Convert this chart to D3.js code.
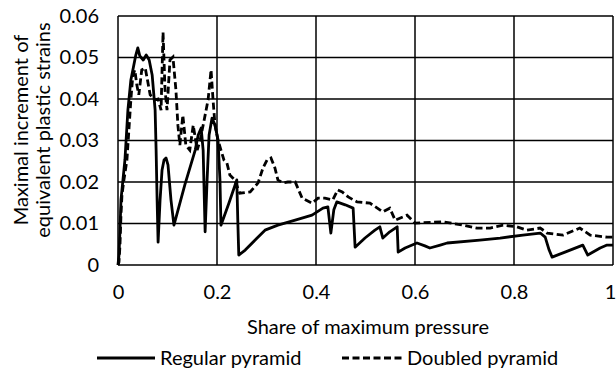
<!DOCTYPE html>
<html>
<head>
<meta charset="utf-8">
<script src="https://cdn.jsdelivr.net/npm/d3@7"></script>
<style>
  body { margin: 0; background: #fff; }
  text { font-family: Lato, "Open Sans", sans-serif; fill: #000; }
</style>
</head>
<body>
<div id="chart"></div>
<script>
// data
var regularX = [0, 0.002, 0.004, 0.006, 0.010, 0.014, 0.020, 0.026, 0.030, 0.036, 0.040, 0.044, 0.051, 0.057, 0.063, 0.069, 0.075, 0.077, 0.079, 0.081, 0.085, 0.089, 0.093, 0.097, 0.101, 0.107, 0.113, 0.135, 0.156, 0.162, 0.168, 0.172, 0.176, 0.180, 0.184, 0.190, 0.196, 0.202, 0.206, 0.208, 0.224, 0.240, 0.242, 0.244, 0.257, 0.277, 0.297, 0.323, 0.358, 0.392, 0.414, 0.424, 0.430, 0.436, 0.442, 0.459, 0.475, 0.479, 0.499, 0.519, 0.529, 0.535, 0.549, 0.564, 0.566, 0.580, 0.604, 0.620, 0.630, 0.651, 0.665, 0.731, 0.772, 0.818, 0.853, 0.863, 0.871, 0.877, 0.903, 0.939, 0.949, 0.974, 0.988, 1.0];
var regularY = [0, 0.0024, 0.0084, 0.0157, 0.0205, 0.0253, 0.0373, 0.0446, 0.0470, 0.0506, 0.0523, 0.0504, 0.0494, 0.0506, 0.0494, 0.0458, 0.0373, 0.0277, 0.0157, 0.0055, 0.0157, 0.0229, 0.0253, 0.0258, 0.0241, 0.0157, 0.0096, 0.0193, 0.0277, 0.0313, 0.0330, 0.0277, 0.0080, 0.0205, 0.0313, 0.0354, 0.0337, 0.0301, 0.0205, 0.0096, 0.0149, 0.0205, 0.0108, 0.0024, 0.0036, 0.0060, 0.0084, 0.0096, 0.0108, 0.0120, 0.0137, 0.0140, 0.0077, 0.0133, 0.0152, 0.0145, 0.0137, 0.0043, 0.0065, 0.0084, 0.0092, 0.0065, 0.0080, 0.0092, 0.0031, 0.0041, 0.0053, 0.0046, 0.0041, 0.0048, 0.0053, 0.0060, 0.0065, 0.0072, 0.0077, 0.0067, 0.0036, 0.0019, 0.0031, 0.0048, 0.0024, 0.0041, 0.0048, 0.0048];

var doubledX = [0, 0.002, 0.004, 0.006, 0.008, 0.012, 0.018, 0.022, 0.026, 0.030, 0.034, 0.038, 0.042, 0.048, 0.055, 0.065, 0.075, 0.081, 0.087, 0.091, 0.095, 0.099, 0.105, 0.111, 0.117, 0.121, 0.125, 0.131, 0.137, 0.145, 0.152, 0.160, 0.166, 0.174, 0.182, 0.188, 0.192, 0.196, 0.202, 0.208, 0.214, 0.220, 0.226, 0.236, 0.246, 0.267, 0.283, 0.293, 0.301, 0.309, 0.317, 0.323, 0.333, 0.343, 0.358, 0.372, 0.392, 0.404, 0.418, 0.434, 0.444, 0.453, 0.465, 0.483, 0.509, 0.535, 0.549, 0.560, 0.584, 0.600, 0.657, 0.697, 0.725, 0.752, 0.778, 0.806, 0.826, 0.853, 0.867, 0.899, 0.933, 0.954, 0.988, 1.0];
var doubledY = [0, 0.0007, 0.0048, 0.0120, 0.0169, 0.0205, 0.0253, 0.0325, 0.0398, 0.0458, 0.0470, 0.0434, 0.0410, 0.0470, 0.0475, 0.0410, 0.0398, 0.0400, 0.0373, 0.0561, 0.0422, 0.0373, 0.0494, 0.0501, 0.0422, 0.0337, 0.0289, 0.0361, 0.0289, 0.0277, 0.0337, 0.0277, 0.0301, 0.0349, 0.0398, 0.0470, 0.0398, 0.0337, 0.0301, 0.0277, 0.0253, 0.0246, 0.0217, 0.0205, 0.0173, 0.0176, 0.0198, 0.0234, 0.0253, 0.0258, 0.0234, 0.0205, 0.0198, 0.0200, 0.0200, 0.0161, 0.0149, 0.0161, 0.0161, 0.0157, 0.0181, 0.0176, 0.0164, 0.0152, 0.0149, 0.0128, 0.0137, 0.0108, 0.0120, 0.0101, 0.0104, 0.0096, 0.0089, 0.0089, 0.0096, 0.0092, 0.0084, 0.0089, 0.0077, 0.0072, 0.0089, 0.0072, 0.0067, 0.0067];

var xTicks = [0, 0.2, 0.4, 0.6, 0.8, 1];
var yTicks = [0, 0.01, 0.02, 0.03, 0.04, 0.05, 0.06];
var seriesNames = ["Regular pyramid", "Doubled pyramid"];

var W = 616, H = 370;
var plotLeft = 118, plotRight = 613, plotTop = 16, plotBottom = 265;
var fontSize = "20px";

var svg = d3.select("#chart").append("svg")
  .attr("width", W)
  .attr("height", H);

var x = d3.scaleLinear().domain([0, 1]).range([plotLeft, plotRight]);
var y = d3.scaleLinear().domain([0, 0.06]).range([plotBottom, plotTop]);

// grid
svg.append("g").selectAll("line")
  .data(yTicks)
  .enter().append("line")
    .attr("x1", plotLeft).attr("x2", plotRight)
    .attr("y1", d => y(d)).attr("y2", d => y(d))
    .attr("stroke", "#000").attr("stroke-width", 1.5);

svg.append("g").selectAll("line")
  .data(xTicks)
  .enter().append("line")
    .attr("x1", d => x(d)).attr("x2", d => x(d))
    .attr("y1", plotTop).attr("y2", plotBottom)
    .attr("stroke", "#000").attr("stroke-width", 1.5);

// axes (labels only)
var xAxis = svg.append("g")
  .attr("transform", "translate(0," + plotBottom + ")")
  .call(d3.axisBottom(x).tickValues(xTicks).tickSize(0).tickPadding(20).tickFormat(d3.format("~g")));
xAxis.select(".domain").remove();
xAxis.selectAll("text").style("font-size", fontSize).attr("font-family", null);
// last label sits at the edge of the window
xAxis.selectAll("text").filter(d => d === 1).attr("dx", "-3");

var yAxis = svg.append("g")
  .attr("transform", "translate(" + plotLeft + ",0)")
  .call(d3.axisLeft(y).tickValues(yTicks).tickSize(0).tickPadding(19).tickFormat(d3.format("~g")));
yAxis.select(".domain").remove();
yAxis.selectAll("text").style("font-size", fontSize).attr("font-family", null);

// lines
var line = d3.line()
  .x(d => x(d[0]))
  .y(d => y(d[1]));

svg.append("path")
  .datum(d3.zip(regularX, regularY))
  .attr("d", line)
  .attr("fill", "none")
  .attr("stroke", "#000")
  .attr("stroke-width", 2.8)
  .attr("stroke-linejoin", "round");

svg.append("path")
  .datum(d3.zip(doubledX, doubledY))
  .attr("d", line)
  .attr("fill", "none")
  .attr("stroke", "#000")
  .attr("stroke-width", 2.8)
  .attr("stroke-dasharray", "7,3.5");

// axis titles
svg.append("text")
  .attr("x", 368).attr("y", 334)
  .attr("text-anchor", "middle")
  .style("font-size", fontSize)
  .text("Share of maximum pressure");

var yTitle = svg.append("text")
  .attr("transform", "translate(32,130) rotate(-90)")
  .attr("text-anchor", "middle")
  .style("font-size", fontSize);
yTitle.append("tspan").attr("x", 0).attr("dy", "-0.2em").text("Maximal increment of");
yTitle.append("tspan").attr("x", 0).attr("dy", "1.1em").text("equivalent plastic strains");

// legend
var legend = svg.append("g");
legend.append("line")
  .attr("x1", 97).attr("x2", 155).attr("y1", 358).attr("y2", 358)
  .attr("stroke", "#000").attr("stroke-width", 2.8);
legend.append("text")
  .attr("x", 160).attr("y", 358).attr("dy", "0.35em")
  .style("font-size", fontSize)
  .text(seriesNames[0]);
legend.append("line")
  .attr("x1", 342).attr("x2", 402).attr("y1", 358).attr("y2", 358)
  .attr("stroke", "#000").attr("stroke-width", 2.8)
  .attr("stroke-dasharray", "7,3.5");
legend.append("text")
  .attr("x", 407).attr("y", 358).attr("dy", "0.35em")
  .style("font-size", fontSize)
  .text(seriesNames[1]);
</script>
</body>
</html>
